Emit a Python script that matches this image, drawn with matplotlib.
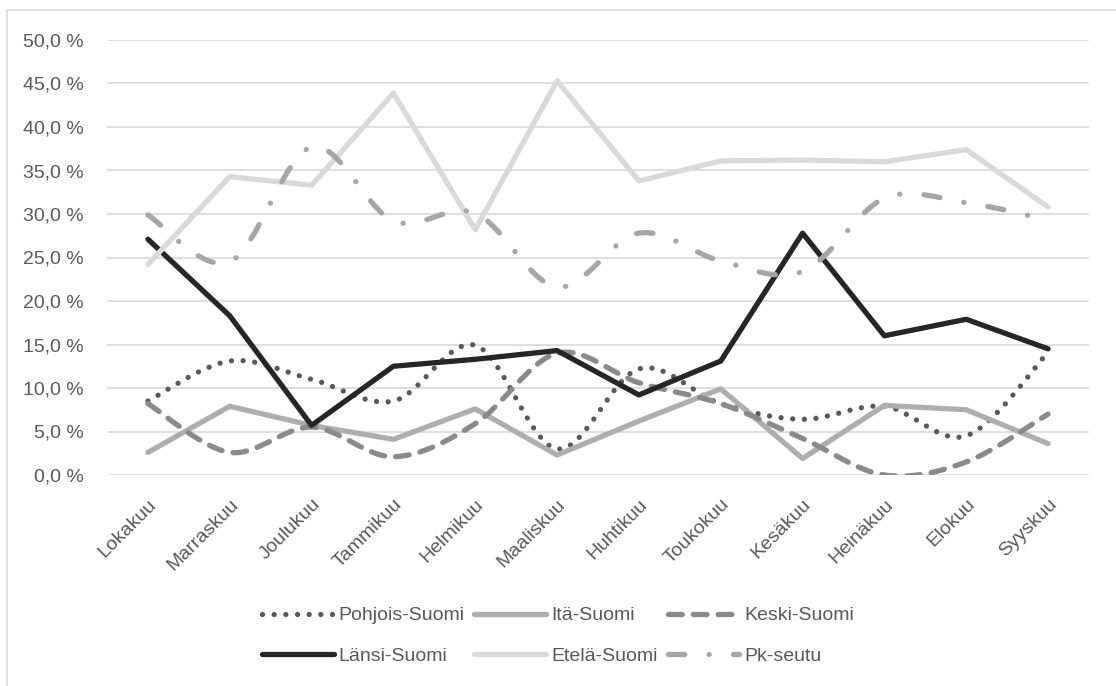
import matplotlib
matplotlib.use("Agg")
import matplotlib.pyplot as plt
from matplotlib.path import Path
from matplotlib.patches import PathPatch, Rectangle
from matplotlib.lines import Line2D
from matplotlib.ticker import FuncFormatter
import numpy as np

plt.rcParams['font.family'] = ['Liberation Sans', 'DejaVu Sans']

months = ["Lokakuu", "Marraskuu", "Joulukuu", "Tammikuu", "Helmikuu", "Maaliskuu",
          "Huhtikuu", "Toukokuu", "Kesäkuu", "Heinäkuu", "Elokuu", "Syyskuu"]

pohjois = [8.5, 13.1, 11.0, 8.5, 14.9, 3.0, 12.2, 8.2, 6.4, 7.9, 4.5, 14.1]
ita = [2.6, 7.9, 5.7, 4.1, 7.6, 2.3, 6.2, 9.9, 1.9, 8.0, 7.5, 3.6]
keski = [8.2, 2.6, 5.5, 2.1, 5.9, 14.0, 10.6, 8.2, 4.2, 0.0, 1.5, 7.0]
lansi = [27.1, 18.3, 5.7, 12.5, 13.3, 14.3, 9.2, 13.1, 27.8, 16.0, 17.9, 14.5]
etela = [24.2, 34.3, 33.3, 43.9, 28.2, 45.3, 33.8, 36.1, 36.2, 36.0, 37.4, 30.8]
pk_seutu = [29.9, 24.5, 37.7, 29.2, 30.1, 21.6, 27.8, 24.6, 23.4, 31.8, 31.3, 29.3]

LW = 3.8

series = [
    # name, values, colour, dash pattern, smoothed
    ("Pohjois-Suomi", pohjois, "#595959", (0, (0.01, 2.2)), True),
    ("Itä-Suomi", ita, "#AEAEAE", "solid", False),
    ("Keski-Suomi", keski, "#8A8A8A", (0, (2.6, 2.1)), True),
    ("Länsi-Suomi", lansi, "#262626", "solid", False),
    ("Etelä-Suomi", etela, "#D9D9D9", "solid", False),
    ("Pk-seutu", pk_seutu, "#A6A6A6", (0, (3.1, 4.6, 0.01, 4.6)), True),
]


def smooth_path(x, y):
    """Cubic Bezier path through all points (Excel-style smoothing)."""
    pts = np.column_stack([x, y]).astype(float)
    n = len(pts)
    verts = [pts[0]]
    codes = [Path.MOVETO]
    for i in range(n - 1):
        p0 = pts[i - 1] if i > 0 else pts[i]
        p1 = pts[i]
        p2 = pts[i + 1]
        p3 = pts[i + 2] if i + 2 < n else pts[i + 1]
        c1 = p1 + (p2 - p0) / 6.0
        c2 = p2 - (p3 - p1) / 6.0
        verts += [c1, c2, p2]
        codes += [Path.CURVE4] * 3
    return Path(verts, codes)


fig = plt.figure(figsize=(11.16, 6.86), dpi=100)
fig.patches.append(Rectangle((7 / 1116, -0.1), 1.2, (1 - 10 / 686) + 0.1,
                             transform=fig.transFigure, fill=False,
                             edgecolor="#D9D9D9", linewidth=1.2))

ax = fig.add_axes([107 / 1116, 1 - 475 / 686, 982 / 1116, 435 / 686])
x = np.arange(len(months))

handles = {}
for name, vals, color, ls, smooth in series:
    if smooth:
        patch = PathPatch(smooth_path(x, vals), fill=False, edgecolor=color,
                          linewidth=LW, linestyle=ls, capstyle="round",
                          joinstyle="round", zorder=3)
        ax.add_patch(patch)
        ax.plot(x, vals, alpha=0)
    else:
        ax.plot(x, vals, color=color, linewidth=LW, linestyle=ls,
                solid_capstyle="round", solid_joinstyle="round", zorder=3)
    handles[name] = Line2D([], [], color=color, linewidth=LW, linestyle=ls,
                           dash_capstyle="round", solid_capstyle="round")

ax.set_xlim(-0.5, len(months) - 0.5)
ax.set_ylim(0, 50)
ax.set_yticks(np.arange(0, 51, 5))
ax.yaxis.set_major_formatter(FuncFormatter(lambda v, p: f"{v:.1f} %".replace(".", ",")))
ax.set_xticks(x)
ax.set_xticklabels(months, rotation=45, ha="right", va="top", rotation_mode="anchor")
ax.tick_params(axis="both", length=0, labelsize=14, labelcolor="#595959")
ax.tick_params(axis="x", pad=15)
ax.tick_params(axis="y", pad=17)
ax.grid(axis="y", color="#D9D9D9", linewidth=1.2, zorder=0)
ax.set_axisbelow(True)
for s in ax.spines.values():
    s.set_visible(False)

order = ["Pohjois-Suomi", "Länsi-Suomi", "Itä-Suomi", "Etelä-Suomi", "Keski-Suomi", "Pk-seutu"]
fig.legend([handles[n] for n in order], order, ncol=3, frameon=False,
           loc="center", bbox_to_anchor=(0.5, 1 - 636 / 686),
           fontsize=14, labelcolor="#595959", handlelength=3.7,
           handletextpad=0.25, columnspacing=0.5, labelspacing=1.2)

fig.savefig("out.png", dpi=100)
